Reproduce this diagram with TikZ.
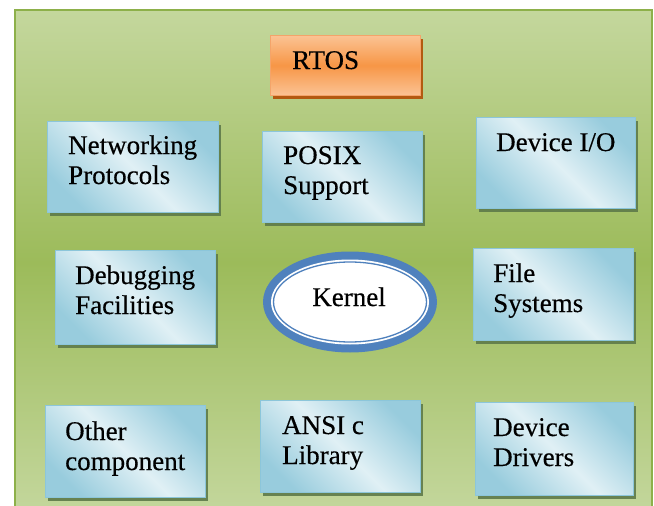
\documentclass[tikz,border=0pt]{standalone}
\usepackage{fontspec}
\setmainfont{Liberation Serif}
\newfontfamily\boxfont[FakeBold=0.4]{Liberation Serif}
\usetikzlibrary{shadows,shapes.geometric}
\definecolor{bdark}{HTML}{98CCDD}
\definecolor{blight}{HTML}{E0F0F5}
\definecolor{bline}{HTML}{8CC6DA}
\definecolor{bshadow}{HTML}{5E7A4A}
\definecolor{glight}{HTML}{C4D79D}
\definecolor{gmid}{HTML}{9CBB5A}
\definecolor{gline}{HTML}{8DB04A}
\definecolor{olight}{HTML}{FBC394}
\definecolor{omid}{HTML}{F79646}
\definecolor{oline}{HTML}{F4A46A}
\definecolor{oshadow}{HTML}{B35A10}
\definecolor{kblue}{HTML}{4F81BD}
\pgfdeclarehorizontalshading{bluediag}{100bp}{color(0bp)=(bdark); color(25bp)=(bdark); color(50bp)=(blight); color(75bp)=(bdark); color(100bp)=(bdark)}
\tikzset{
  bbox/.style={draw=bline, line width=0.8pt, shading=bluediag, shading angle=45,
    inner sep=0, anchor=north west,
    drop shadow={shadow xshift=3pt, shadow yshift=-4pt, fill=bshadow, opacity=0.9}},
  obox/.style={draw=oline, line width=0.8pt, top color=olight, bottom color=olight, middle color=omid,
    inner sep=0, anchor=north west,
    drop shadow={shadow xshift=3pt, shadow yshift=-4pt, fill=oshadow, opacity=1}},
  txt/.style={anchor=base west, inner sep=0, font=\boxfont\fontsize{27}{30}\selectfont, text=black},
}
\begin{document}
\begin{tikzpicture}[x=1pt,y=-1pt]
\useasboundingbox (0,0) rectangle (654,506);
\fill[white] (0,0) rectangle (654,506);
\node[draw=gline, line width=1.6pt, top color=glight, bottom color=glight, middle color=gmid,
  minimum width=637pt, minimum height=505pt, inner sep=0, anchor=north west] (bg) at (14,9) {};

% RTOS
\node[obox, minimum width=150pt, minimum height=60pt] (rtos) at (270,35) {};
\node[txt] (trtos) at (292,69) {RTOS};

% Row 1
\node[bbox, minimum width=171pt, minimum height=91pt] (net) at (47,121) {};
\node[txt] (tnet1) at (68,154) {Networking};
\node[txt] (tnet2) at (68,184) {Protocols};

\node[bbox, minimum width=160pt, minimum height=91pt] (posix) at (262,131) {};
\node[txt] (tpos1) at (283,164) {POSIX};
\node[txt] (tpos2) at (283,194) {Support};

\node[bbox, minimum width=159pt, minimum height=91pt] (dio) at (476,117) {};
\node[txt] (tdio) at (496,151) {Device I/O};

% Row 2
\node[bbox, minimum width=160pt, minimum height=94pt] (dbg) at (55,250) {};
\node[txt] (tdbg1) at (75,284) {Debugging};
\node[txt] (tdbg2) at (75,314) {Facilities};

\node[ellipse, fill=kblue, minimum width=174pt, minimum height=101pt, inner sep=0] (kout) at (350,302) {};
\node[ellipse, fill=white, minimum width=158pt, minimum height=85pt, inner sep=0] (kmid) at (kout.center) {};
\node[ellipse, draw=kblue, line width=1.3pt, fill=white, minimum width=153pt, minimum height=80pt, inner sep=0] (kin) at (kout.center) {};
\node[anchor=base, inner sep=0, font=\boxfont\fontsize{27}{30}\selectfont] (tker) at (349,306) {Kernel};

\node[bbox, minimum width=160pt, minimum height=92pt] (fs) at (473,248) {};
\node[txt] (tfs1) at (493,282) {File};
\node[txt] (tfs2) at (493,312) {Systems};

% Row 3
\node[bbox, minimum width=160pt, minimum height=92pt] (oth) at (45,405) {};
\node[txt] (toth1) at (65,440) {Other};
\node[txt] (toth2) at (65,470) {component};

\node[bbox, minimum width=160pt, minimum height=92pt] (ansi) at (260,400) {};
\node[txt] (tansi1) at (282,434) {ANSI c};
\node[txt] (tansi2) at (282,464) {Library};

\node[bbox, minimum width=158pt, minimum height=93pt] (drv) at (475,402) {};
\node[txt] (tdrv1) at (493,436) {Device};
\node[txt] (tdrv2) at (493,466) {Drivers};
\end{tikzpicture}
\end{document}
